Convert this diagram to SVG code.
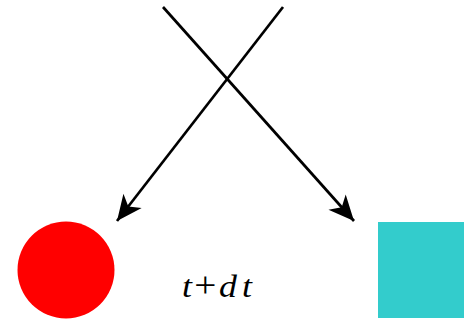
<svg xmlns="http://www.w3.org/2000/svg" width="464" height="321" viewBox="0 0 464 321">
<style>
.conn{stroke:#000;stroke-width:2.7;fill:none;marker-end:url(#ah)}
.lbl{font-family:"Liberation Serif",serif;font-style:italic;font-size:32px;fill:#000}
.op{font-style:normal;font-size:35px}
</style>
<defs>
<marker id="ah" markerUnits="userSpaceOnUse" markerWidth="30" markerHeight="30" refX="0" refY="0" viewBox="-24 -12 26 24" orient="auto">
<path d="M0,0 L-22,-10 L-16,0 L-22,10 Z" fill="#000"/>
</marker>
</defs>
<rect width="464" height="321" fill="#fff"/>
<g id="connectors">
<line class="conn" x1="163" y1="7" x2="354" y2="221"/>
<line class="conn" x1="283" y1="7" x2="117" y2="221"/>
</g>
<g id="circle"><circle cx="66" cy="270" r="48.5" fill="#ff0000"/></g>
<g id="square"><rect x="378" y="222" width="90" height="96" fill="#33cccc"/></g>
<g id="label"><text class="lbl" transform="translate(182,297) scale(1.12,1)"><tspan x="0">t</tspan><tspan class="op" x="11">+</tspan><tspan x="33">d</tspan><tspan x="53.5">t</tspan></text></g>
</svg>
